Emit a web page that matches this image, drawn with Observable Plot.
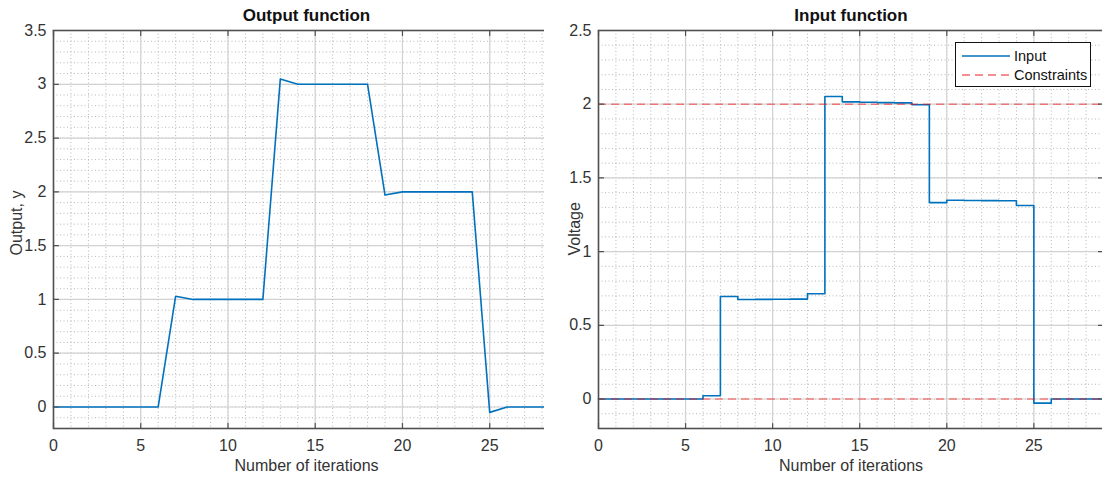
<!DOCTYPE html>
<html>
<head>
<meta charset="utf-8">
<script src="https://cdn.jsdelivr.net/npm/d3@7"></script>
<script src="https://cdn.jsdelivr.net/npm/@observablehq/plot@0.6"></script>
<style>
  html, body { margin: 0; padding: 0; background: #fff; }
  #wrap { position: relative; width: 1102px; height: 481px; overflow: hidden; background: #fff; font-family: "Liberation Sans", Arial, sans-serif; }
  #left { position: absolute; left: 0; top: 0; width: 575px; height: 481px; }
  #right { position: absolute; left: 544px; top: 0; width: 575px; height: 481px; }
  #left svg, #right svg { max-width: none !important; }
  #legend { position: absolute; left: 955px; top: 42px; width: 136px; height: 45px; border: 1px solid #111; background: #fff; box-sizing: border-box; font-size: 14.5px; color: #111; }
  #legend .row { position: absolute; left: 6px; height: 18px; display: flex; align-items: center; }
  #legend .row span { margin-left: 4px; }
</style>
</head>
<body>
<div id="wrap">
  <div id="left"></div>
  <div id="right"></div>
  <div id="legend">
    <div class="row" style="top:4px"><svg width="48" height="10"><line x1="0" y1="5" x2="48" y2="5" stroke="#0072BD" stroke-width="1.5"/></svg><span>Input</span></div>
    <div class="row" style="top:23px"><svg width="48" height="10"><line x1="0" y1="5" x2="48" y2="5" stroke="#f26b6b" stroke-width="1.5" stroke-dasharray="8,5"/></svg><span>Constraints</span></div>
  </div>
</div>
<script>
// ---- data ----
const iterations = [0,1,2,3,4,5,6,7,8,9,10,11,12,13,14,15,16,17,18,19,20,21,22,23,24,25,26,27,28,29];
const outputY   = [0,0,0,0,0,0,0,1.03,1.0,1.0,1.0,1.0,1.0,3.05,3.0,3.0,3.0,3.0,3.0,1.97,2.0,2.0,2.0,2.0,2.0,-0.05,0,0,0,0];
const inputU    = [0,0,0,0,0,0,0.022,0.695,0.675,0.676,0.677,0.678,0.714,2.052,2.016,2.013,2.011,2.009,1.996,1.332,1.348,1.347,1.346,1.345,1.313,-0.028,0,0,0,0];
const constraints = [0, 2];

const xTicks = [0, 5, 10, 15, 20, 25];
const yTicksOut = [0, 0.5, 1, 1.5, 2, 2.5, 3, 3.5];
const yTicksIn  = [0, 0.5, 1, 1.5, 2, 2.5];
const xDomain = [0, 29];
const yDomainOut = [-0.2, 3.5];
const yDomainIn  = [-0.2, 2.5];

const outData = iterations.map((x, i) => ({x, y: outputY[i]}));
const inData  = iterations.map((x, i) => ({x, y: inputU[i]}));

const FONT = "Liberation Sans, Arial, sans-serif";
const frameColor = "#505050";
const tickShape = {draw(context, l) { context.moveTo(0, 0); context.lineTo(0, -l); }};

function decorations(yTicks, yDomain) {
  const minorX = d3.range(xDomain[0], xDomain[1] + 0.001, 1);
  const minorY = d3.range(Math.round(yDomain[0]*10), Math.round(yDomain[1]*10) + 1).map(v => v / 10);
  return [
    Plot.ruleX(minorX, {stroke: "#b8b8b8", strokeDasharray: "1,2.5", strokeWidth: 1}),
    Plot.ruleY(minorY, {stroke: "#b8b8b8", strokeDasharray: "1,2.5", strokeWidth: 1}),
    Plot.ruleX(xTicks, {stroke: "#d2d2d2", strokeWidth: 1.2}),
    Plot.ruleY(yTicks, {stroke: "#d2d2d2", strokeWidth: 1.2}),
  ];
}

function frameAndTicks(yTicks) {
  const t = {length: 5, anchor: "start", stroke: frameColor, strokeWidth: 1.2, shape: tickShape};
  return [
    Plot.frame({stroke: frameColor, strokeWidth: 1.6}),
    Plot.vector(xTicks, {...t, x: d => d, frameAnchor: "bottom", rotate: 0}),
    Plot.vector(xTicks, {...t, x: d => d, frameAnchor: "top", rotate: 180}),
    Plot.vector(yTicks, {...t, y: d => d, frameAnchor: "left", rotate: 90}),
    Plot.vector(yTicks, {...t, y: d => d, frameAnchor: "right", rotate: -90}),
    Plot.axisX({ticks: xTicks, tickSize: 0, tickPadding: 11, tickFormat: d => String(d), fontSize: 16, color: "#333", label: null}),
    Plot.axisY({ticks: yTicks, tickSize: 0, tickPadding: 7, tickFormat: d => String(d), fontSize: 16, color: "#333", label: null}),
  ];
}

function labels(title, ylabel, ydx, ydy) {
  return [
    Plot.text([title], {text: d => d, frameAnchor: "top", dy: -22, fontWeight: "bold", fontSize: 17, fill: "#111"}),
    Plot.text(["Number of iterations"], {text: d => d, frameAnchor: "bottom", dy: 42, fontSize: 16, fill: "#333"}),
    Plot.text([ylabel], {text: d => d, frameAnchor: "left", dx: ydx, dy: ydy, rotate: -90, fontSize: 16, fill: "#333"}),
  ];
}

const common = {
  width: 575, height: 481,
  marginLeft: 53, marginRight: 16, marginTop: 30, marginBottom: 53,
  style: {fontFamily: FONT, background: "#fff", overflow: "visible", maxWidth: "none"},
  x: {domain: xDomain},
};

const left = Plot.plot({
  ...common,
  y: {domain: yDomainOut},
  marks: [
    ...decorations(yTicksOut, yDomainOut),
    Plot.line(outData, {x: "x", y: "y", stroke: "#0072BD", strokeWidth: 1.6}),
    ...frameAndTicks(yTicksOut),
    ...labels("Output function", "Output, y", -37, 26),
  ]
});
document.getElementById("left").appendChild(left);

const right = Plot.plot({
  ...common,
  marginLeft: 54,
  y: {domain: yDomainIn},
  marks: [
    ...decorations(yTicksIn, yDomainIn),
    Plot.line(inData, {x: "x", y: "y", stroke: "#0072BD", strokeWidth: 1.6, curve: "step-after"}),
    Plot.ruleY(constraints, {stroke: "#ff0000", strokeOpacity: 0.45, strokeWidth: 1.5, strokeDasharray: "8,5"}),
    ...frameAndTicks(yTicksIn),
    ...labels("Input function", "Voltage", -24, 26),
  ]
});
document.getElementById("right").appendChild(right);
</script>
</body>
</html>
